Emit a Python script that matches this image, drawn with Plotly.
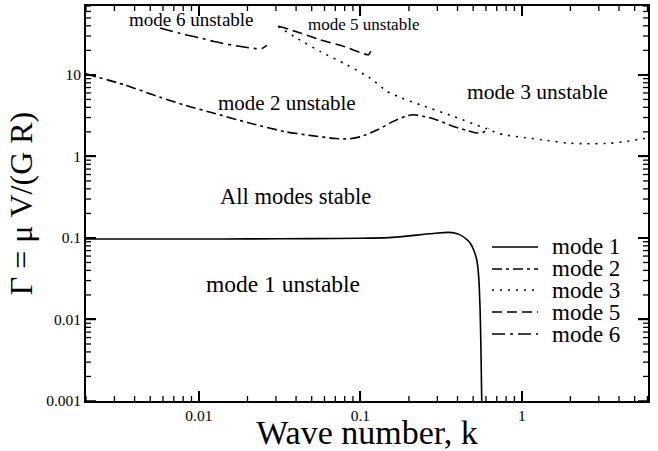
import plotly.graph_objects as go
import numpy as np

# ---- data ----
mode1_k = [0.002, 0.005, 0.01, 0.02, 0.05, 0.1, 0.15, 0.2, 0.25, 0.3, 0.35, 0.39, 0.415,
           0.45, 0.48, 0.505, 0.526, 0.54, 0.552, 0.559, 0.565]
mode1_g = [0.097, 0.097, 0.097, 0.0975, 0.098, 0.099, 0.101, 0.106, 0.111, 0.115, 0.117,
           0.114, 0.109, 0.098, 0.086, 0.07, 0.054, 0.035, 0.013, 0.004, 0.001]

mode2_k = [0.002, 0.0035, 0.0052, 0.008, 0.0134, 0.02, 0.0347, 0.05, 0.07, 0.085, 0.1,
           0.13, 0.16, 0.19, 0.213, 0.246, 0.284, 0.377, 0.45, 0.526, 0.58, 0.62]
mode2_g = [10.3, 7.5, 5.7, 4.3, 3.25, 2.6, 2.0, 1.8, 1.66, 1.64, 1.74,
           2.15, 2.69, 3.1, 3.25, 3.1, 2.9, 2.33, 2.1, 1.94, 1.98, 2.23]

mode3_k = [0.031, 0.0404, 0.0564, 0.0825, 0.115, 0.146, 0.18, 0.235, 0.377, 0.552, 0.6,
           0.7, 0.77, 1.0, 1.43, 1.9, 2.52, 3.5, 4.5, 5.4, 6.0]
mode3_g = [39.4, 28.3, 19.4, 13.3, 9.15, 6.3, 5.2, 4.3, 3.1, 2.33, 2.2,
           1.94, 1.85, 1.72, 1.57, 1.46, 1.43, 1.45, 1.53, 1.63, 1.68]

mode5_k = [0.031, 0.0368, 0.0564, 0.0786, 0.11, 0.113, 0.116]
mode5_g = [39.4, 35.9, 27.0, 22.4, 17.7, 17.8, 19.5]

mode6_k = [0.00575, 0.008, 0.0102, 0.0123, 0.016, 0.0218, 0.0245, 0.0264]
mode6_g = [37.6, 31.5, 28.4, 25.8, 23.2, 21.2, 21.0, 23.0]

legend_names = ["mode 1", "mode 2", "mode 3", "mode 5", "mode 6"]
x_tickvals = [0.01, 0.1, 1]
x_ticktext = ["0.01", "0.1", "1"]
y_tickvals = [0.001, 0.01, 0.1, 1, 10]
y_ticktext = ["0.001", "0.01", "0.1", "1", "10"]

FONT = "Liberation Serif"
dashes = ["solid", "10px,4px,3px,4px", "2px,6px", "10px,5px", "13px,5px,3px,5px"]

series = [(mode1_k, mode1_g), (mode2_k, mode2_g), (mode3_k, mode3_g),
          (mode5_k, mode5_g), (mode6_k, mode6_g)]

W, H = 658, 451
ML, MR, MT, MB = 86, 10, 6, 50
PW, PH = W - ML - MR, H - MT - MB
X_RANGE = [np.log10(0.002), np.log10(6.05)]
Y_RANGE = [-3.0, np.log10(70)]

fig = go.Figure()
for (k, g), name, d in zip(series, legend_names, dashes):
    fig.add_trace(go.Scatter(x=k, y=g, mode="lines", name=name, showlegend=False,
                             line=dict(color="black", width=1.6, dash=d,
                                       shape="spline", smoothing=0.6)))

# manual legend (compact row spacing as in the reference)
leg_y = [0.3899, 0.3342, 0.2810, 0.2253, 0.1696]
shapes = []
annotations = []
for name, d, yy in zip(legend_names, dashes, leg_y):
    shapes.append(dict(type="line", xref="paper", yref="paper", x0=0.7224, x1=0.8043,
                       y0=yy, y1=yy, line=dict(color="black", width=1.6, dash=d)))
    annotations.append(dict(xref="paper", yref="paper", x=0.8256, y=yy, text=name,
                            showarrow=False, xanchor="left", yanchor="middle",
                            font=dict(family=FONT, size=23, color="black")))

labels = [
    ("mode 6 unstable", 0.1886, 0.9646, 19),
    ("mode 5 unstable", 0.4929, 0.9540, 17),
    ("mode 3 unstable", 0.8025, 0.7823, 21.5),
    ("mode 2 unstable", 0.3585, 0.7544, 21),
    ("All modes stable", 0.3719, 0.5165, 22.5),
    ("mode 1 unstable", 0.3514, 0.2962, 23.5),
]
for t, x, y, s in labels:
    annotations.append(dict(xref="paper", yref="paper", x=x, y=y, text=t, showarrow=False,
                            xanchor="center", yanchor="middle",
                            font=dict(family=FONT, size=s, color="black")))

x_minor = [m * 10.0 ** e for e in range(-3, 1) for m in range(2, 10)]
x_minor = [v for v in x_minor if 0.002 <= v <= 6]
y_minor = [m * 10.0 ** e for e in range(-3, 2) for m in range(2, 10)]
y_minor = [v for v in y_minor if v <= 70]

# inward tick marks on all four sides (derived from the tick value lists)
def xfrac(v):
    return (np.log10(v) - X_RANGE[0]) / (X_RANGE[1] - X_RANGE[0])

def yfrac(v):
    return (np.log10(v) - Y_RANGE[0]) / (Y_RANGE[1] - Y_RANGE[0])

for vals, ln, wd in [(x_tickvals, 10, 1.5), (x_minor, 5, 1.3)]:
    for v in vals:
        xf = xfrac(v)
        for y0, y1 in [(0, ln / PH), (1, 1 - ln / PH)]:
            shapes.append(dict(type="line", xref="paper", yref="paper", x0=xf, x1=xf,
                               y0=y0, y1=y1, line=dict(color="black", width=wd)))
for vals, ln, wd in [(y_tickvals, 10, 1.5), (y_minor, 5, 1.3)]:
    for v in vals:
        yf = yfrac(v)
        for x0, x1 in [(0, ln / PW), (1, 1 - ln / PW)]:
            shapes.append(dict(type="line", xref="paper", yref="paper", x0=x0, x1=x1,
                               y0=yf, y1=yf, line=dict(color="black", width=wd)))

axis_common = dict(showline=True, linecolor="black", linewidth=1.6, mirror="ticks",
                   ticks="inside", ticklen=10, tickwidth=1.5, tickcolor="black",
                   showgrid=False, zeroline=False, automargin=False,
                   tickfont=dict(family=FONT, size=15.5, color="black"))

fig.update_layout(
    width=W, height=H,
    margin=dict(l=ML, r=MR, t=MT, b=MB),
    paper_bgcolor="white", plot_bgcolor="white",
    shapes=shapes, annotations=annotations,
    xaxis=dict(type="log", range=X_RANGE,
               tickmode="array", tickvals=x_tickvals, ticktext=x_ticktext,
               title=dict(text="Wave number, k", standoff=1,
                          font=dict(family=FONT, size=34, color="black")),
               **axis_common),
    yaxis=dict(type="log", range=Y_RANGE,
               tickmode="array", tickvals=y_tickvals, ticktext=y_ticktext,
               title=dict(text="Γ = μ V/(G R)", standoff=4,
                          font=dict(family=FONT, size=32, color="black")),
               **axis_common),
)

fig.write_html("out.html", config={"displayModeBar": False},
               post_script="document.body.style.margin='0';")
